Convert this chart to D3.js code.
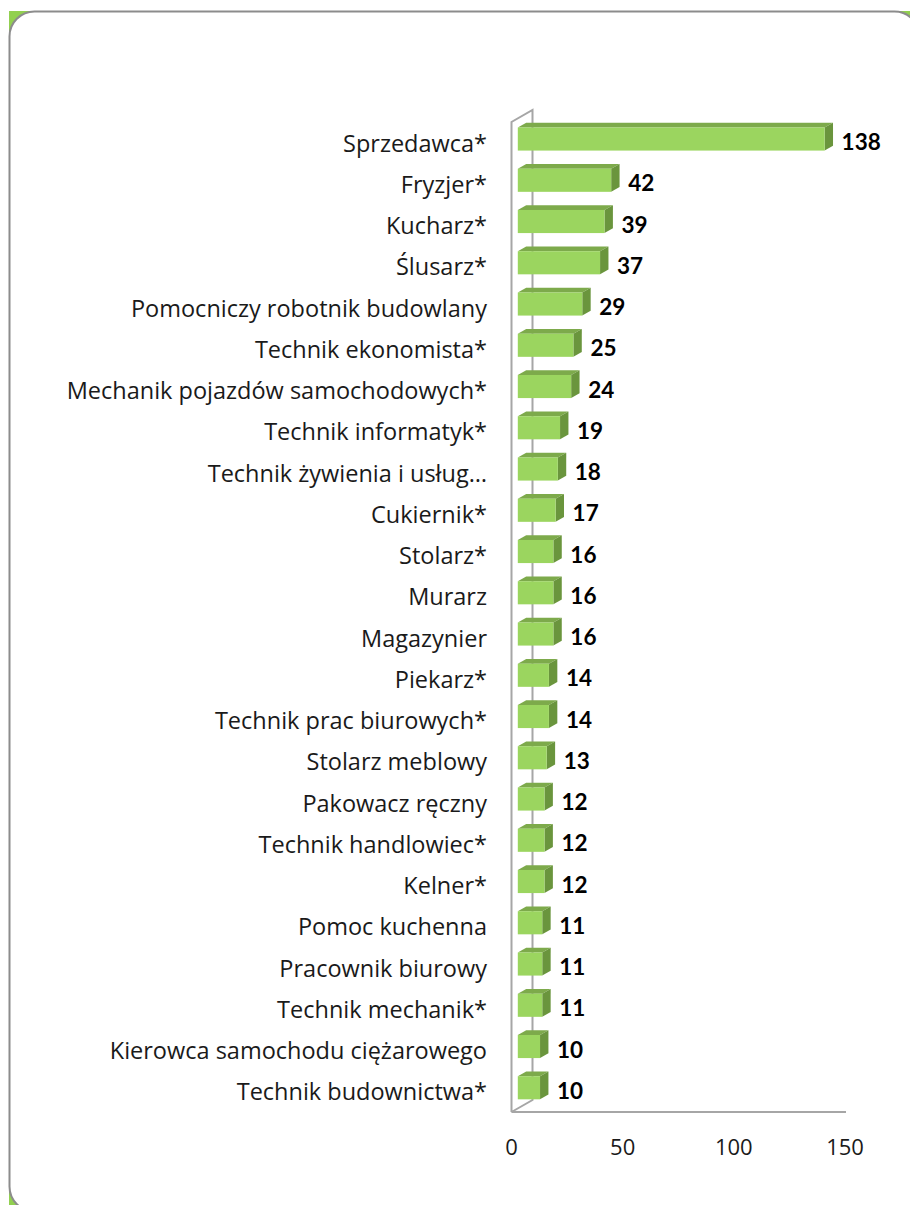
<!DOCTYPE html>
<html>
<head>
<meta charset="utf-8">
<script src="https://cdn.jsdelivr.net/npm/d3@7"></script>
<style>
  html, body { margin: 0; padding: 0; background: #fff; }
  svg { display: block; }
</style>
</head>
<body>
<svg id="chart" width="910" height="1205"></svg>
<script>
// Occupations and number of vacancies
const categories = [
  "Sprzedawca*",
  "Fryzjer*",
  "Kucharz*",
  "Ślusarz*",
  "Pomocniczy robotnik budowlany",
  "Technik ekonomista*",
  "Mechanik pojazdów samochodowych*",
  "Technik informatyk*",
  "Technik żywienia i usług…",
  "Cukiernik*",
  "Stolarz*",
  "Murarz",
  "Magazynier",
  "Piekarz*",
  "Technik prac biurowych*",
  "Stolarz meblowy",
  "Pakowacz ręczny",
  "Technik handlowiec*",
  "Kelner*",
  "Pomoc kuchenna",
  "Pracownik biurowy",
  "Technik mechanik*",
  "Kierowca samochodu ciężarowego",
  "Technik budownictwa*"
];
const values = [138, 42, 39, 37, 29, 25, 24, 19, 18, 17, 16, 16, 16, 14, 14, 13, 12, 12, 12, 11, 11, 11, 10, 10];
const tickValues = [0, 50, 100, 150];

const svg = d3.select("#chart");
const FONT = "'Open Sans', Lato, sans-serif";
const FONT_BOLD = "Lato, 'Open Sans', sans-serif";

// Card frame: green corners behind a white rounded panel
svg.append("rect")
  .attr("x", 9).attr("y", 11).attr("width", 910).attr("height", 1205)
  .attr("fill", "#92D050");
svg.append("rect")
  .attr("x", 9.5).attr("y", 11.5).attr("width", 910).attr("height", 1200)
  .attr("rx", 25).attr("ry", 25)
  .attr("fill", "#ffffff").attr("stroke", "#8c8c8c").attr("stroke-width", 2);

// Front-plane scales
const x = d3.scaleLinear().domain([0, 150]).range([511.5, 845]);
const y = d3.scaleBand().domain(categories).range([122, 1112])
  .paddingInner(0.44).paddingOuter(0.22);

// Oblique depth projection: full depth shifts by (dx, dy)
const depth = { dx: 21, dy: -12 };
const proj = d => [depth.dx * d, depth.dy * d];
const [fx, fy] = proj(0.3);      // bar front face
const [bx, by] = proj(0.7);      // bar back face
const ddx = bx - fx, ddy = by - fy;

// Walls (side wall edges and floor edge)
const wall = svg.append("g").attr("fill", "none")
  .attr("stroke", "#a6a6a6").attr("stroke-width", 2);
const [wx, wy] = proj(1);
const x0 = x(0), yTop = y.range()[0], yBot = y.range()[1];
wall.append("path").attr("d",
  `M${x0},${yBot} L${x0},${yTop} L${x0 + wx},${yTop + wy} L${x0 + wx},${yBot + wy} L${x0},${yBot}`);
wall.append("line")
  .attr("x1", x0).attr("y1", yBot).attr("x2", x(150) + 1).attr("y2", yBot);

// Bars as oblique boxes
const bars = svg.append("g").selectAll("g").data(categories).join("g");
bars.each(function (c, i) {
  const g = d3.select(this);
  const v = values[i];
  const xa = x(0) + fx, xb = x(v) + fx;
  const ya = y(c) + fy, h = y.bandwidth();
  g.append("path")
    .attr("d", `M${xa},${ya} L${xb},${ya} L${xb + ddx},${ya + ddy} L${xa + ddx},${ya + ddy}Z`)
    .attr("fill", "#7DAA4B");
  g.append("path")
    .attr("d", `M${xb},${ya} L${xb + ddx},${ya + ddy} L${xb + ddx},${ya + ddy + h} L${xb},${ya + h}Z`)
    .attr("fill", "#6A953D");
  g.append("rect")
    .attr("x", xa).attr("y", ya).attr("width", xb - xa).attr("height", h)
    .attr("fill", "#9BD55F");
});

// Value labels
svg.append("g").selectAll("text").data(categories).join("text")
  .attr("x", (c, i) => x(values[i]) + fx + 17)
  .attr("y", c => y(c) + y.bandwidth() / 2 + 7.5)
  .attr("font-family", FONT_BOLD).attr("font-weight", "bold")
  .attr("font-size", 22.5).attr("fill", "#000")
  .text((c, i) => values[i]);

// Category labels
svg.append("g").selectAll("text").data(categories).join("text")
  .attr("x", 487)
  .attr("y", c => y(c) + y.bandwidth() / 2 + 9)
  .attr("text-anchor", "end")
  .attr("font-family", FONT).attr("font-size", 23.5).attr("fill", "#1a1a1a")
  .text(c => c);

// Value axis tick labels
svg.append("g").selectAll("text").data(tickValues).join("text")
  .attr("x", d => x(d))
  .attr("y", 1155)
  .attr("text-anchor", "middle")
  .attr("font-family", FONT).attr("font-size", 22).attr("fill", "#1a1a1a")
  .text(d => d);
</script>
</body>
</html>
